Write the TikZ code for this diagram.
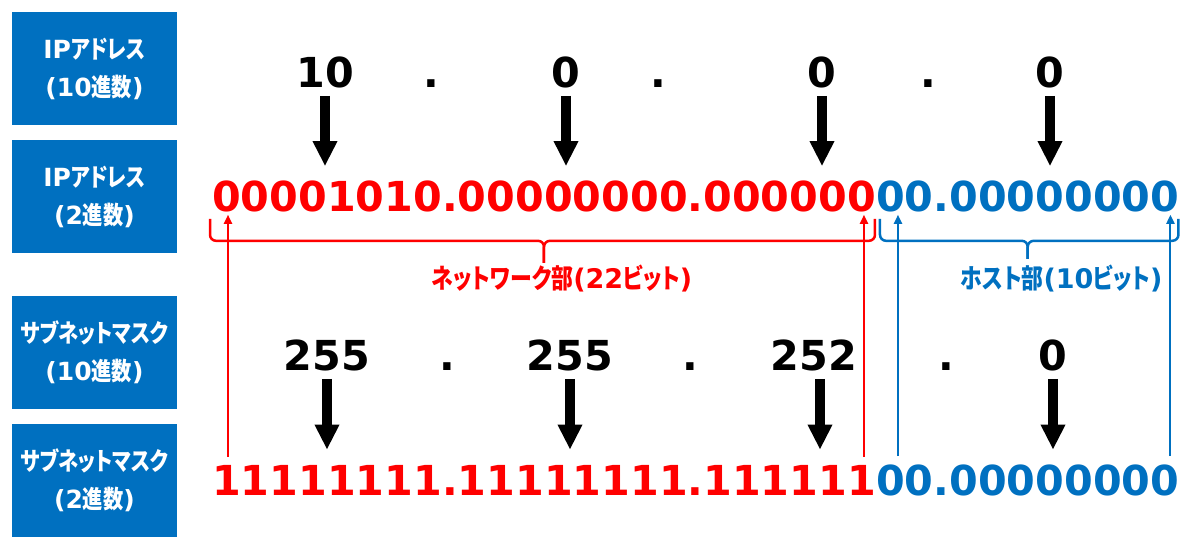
\documentclass[tikz,border=0pt]{standalone}
\usepackage{fontspec}
\usepackage{tikz}
\usetikzlibrary{arrows.meta,positioning}
\newfontfamily\numfont{DejaVu Sans}
\newfontfamily\jpfont{Noto Sans CJK JP}[FakeStretch=0.81,RawFeature={+palt}]
\definecolor{boxblue}{RGB}{0,112,192}
\definecolor{netred}{RGB}{255,0,0}

\begin{document}
\begin{tikzpicture}[x=1pt,y=-1pt,
 label box/.style={rectangle,fill=boxblue,minimum width=165pt,minimum height=113pt,inner sep=0pt,
   align=center,text=white,font=\jpfont\bfseries\fontsize{25}{38}\selectfont,
   execute at begin node=\rule{0pt}{29pt}},
 dec num/.style={anchor=base,inner sep=0pt,font=\numfont\bfseries\fontsize{41.3}{41.3}\selectfont},
 bin num/.style={anchor=base west,inner sep=0pt,font=\numfont\bfseries\fontsize{41.3}{41.3}\selectfont},
 big arrow/.style={-{Triangle[width=23pt,length=25pt]},line width=10pt},
 bit arrow/.style={-{Triangle[width=8pt,length=9pt]},line width=2pt},
 bracket/.style={line width=2.5pt,rounded corners=6pt},
 part label/.style={anchor=north,inner sep=0pt,font=\jpfont\bfseries\fontsize{27}{27}\selectfont}]
\useasboundingbox (0,0) rectangle (1200,540);
%boxes
  \node[label box] (ipdec) at (94.5,68.5) {{\numfont IP}アドレス\\{\numfont(10}進数{\numfont)}};
  \node[label box,below=15pt of ipdec] (ipbin) {{\numfont IP}アドレス\\{\numfont(2}進数{\numfont)}};
  \node[label box,below=42pt of ipbin] (mkdec) {サブネットマスク\\{\numfont(10}進数{\numfont)}};
  \node[label box,below=15pt of mkdec] (mkbin) {サブネットマスク\\{\numfont(2}進数{\numfont)}};
%ip address
  \node[dec num] (ip1) at (325,88) {10};
  \node[dec num] (ipdot1) at (431,88) {.};
  \node[dec num] (ip2) at (566,88) {0};
  \node[dec num] (ipdot2) at (658,88) {.};
  \node[dec num] (ip3) at (822,88) {0};
  \node[dec num] (ipdot3) at (928,88) {.};
  \node[dec num] (ip4) at (1050,88) {0};
  \node[bin num,text=netred] (ipnet) at (212,212) {00001010.00000000.000000};
  \node[bin num,text=boxblue] (iphost) at (ipnet.base east) {00.00000000};
%subnet mask
  \node[dec num] (mk1) at (327,370) {255};
  \node[dec num] (mkdot1) at (447,370) {.};
  \node[dec num] (mk2) at (570,370) {255};
  \node[dec num] (mkdot2) at (690,370) {.};
  \node[dec num] (mk3) at (814,370) {252};
  \node[dec num] (mkdot3) at (946,370) {.};
  \node[dec num] (mk4) at (1053,370) {0};
  \node[bin num,text=netred] (mknet) at (212,495) {11111111.11111111.111111};
  \node[bin num,text=boxblue] (mkhost) at (mknet.base east) {00.00000000};
%arrows
  \path[big arrow,shorten <=7pt,shorten >=15pt]
    (ip1.south) edge (ip1.south |- ipnet.north)
    (ip2.south) edge (ip2.south |- ipnet.north)
    (ip3.south) edge (ip3.south |- ipnet.north)
    (ip4.south) edge (ip4.south |- ipnet.north);
  \path[big arrow,shorten <=8pt,shorten >=15pt]
    (mk1.south) edge (mk1.south |- mknet.north)
    (mk2.south) edge (mk2.south |- mknet.north)
    ([xshift=6pt]mk3.south) edge ([xshift=6pt]mk3.south |- mknet.north)
    (mk4.south) edge (mk4.south |- mknet.north);
%braces
  \draw[netred,bracket] ([xshift=-2pt,yshift=-6pt]ipnet.south west) |- ([yshift=-28pt]ipnet.south) -- ([yshift=-50pt]ipnet.south);
  \draw[netred,bracket] ([xshift=-1pt,yshift=-6pt]ipnet.south east) |- ([yshift=-28pt]ipnet.south) -- ([yshift=-50pt]ipnet.south);
  \node[part label,text=netred] (netlab) at ([xshift=18pt,yshift=-52pt]ipnet.south) {ネットワーク部{\numfont(22}ビット{\numfont)}};
  \draw[boxblue,bracket] ([xshift=4pt,yshift=-6pt]iphost.south west) |- ([yshift=-28pt]iphost.south) -- ([yshift=-46pt]iphost.south);
  \draw[boxblue,bracket] ([xshift=-1pt,yshift=-6pt]iphost.south east) |- ([yshift=-28pt]iphost.south) -- ([yshift=-46pt]iphost.south);
  \node[part label,text=boxblue] (hostlab) at ([xshift=34pt,yshift=-52pt]iphost.south) {ホスト部{\numfont(10}ビット{\numfont)}};
%bit lines
  \draw[netred,bit arrow] ([xshift=16pt,yshift=8pt]mknet.north west) -- ([xshift=16pt,yshift=-2pt]ipnet.south west);
  \draw[netred,bit arrow] ([xshift=-12pt,yshift=8pt]mknet.north east) -- ([xshift=-12pt,yshift=-2pt]ipnet.south east);
  \draw[boxblue,bit arrow] ([xshift=22pt,yshift=8pt]mkhost.north west) -- ([xshift=22pt,yshift=-2pt]iphost.south west);
  \draw[boxblue,bit arrow] ([xshift=-9pt,yshift=8pt]mkhost.north east) -- ([xshift=-9pt,yshift=-2pt]iphost.south east);
\end{tikzpicture}
\end{document}
